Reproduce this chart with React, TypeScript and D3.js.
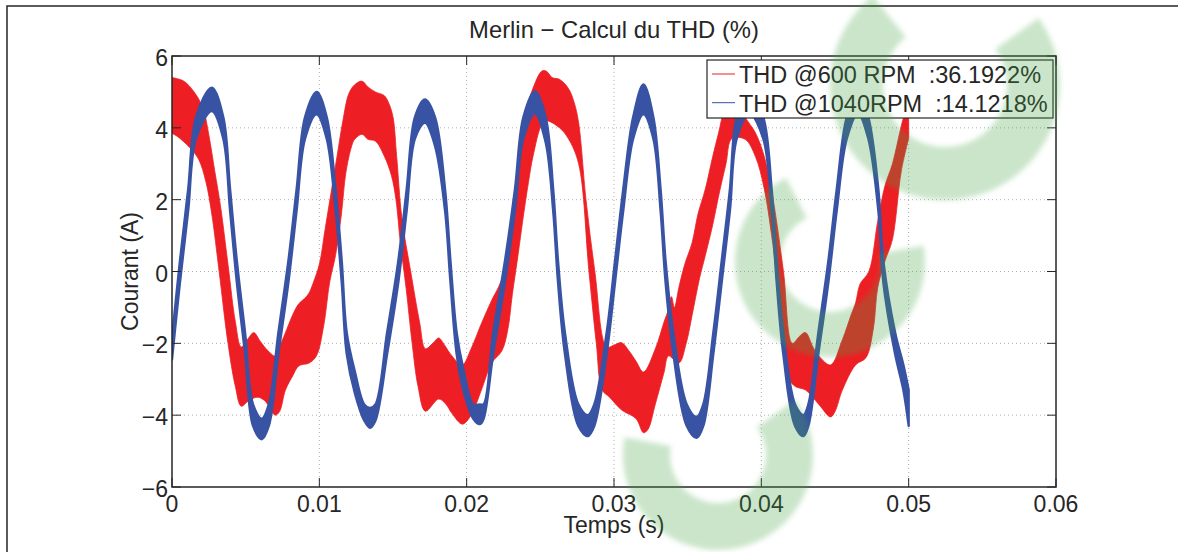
import * as d3 from "d3";

const WIDTH = 1178;
const HEIGHT = 552;
const PLOT = { left: 172, right: 1056, top: 56, bottom: 487 };
const FONT = "'Liberation Sans', Arial, Helvetica, sans-serif";
const INK = "#262626";
const RED = "#ed1f24";
const BLUE = "#3953a4";

const title = "Merlin \u2212 Calcul du THD (%)";
const xLabel = "Temps (s)";
const yLabel = "Courant (A)";

const xTicks = [0, 0.01, 0.02, 0.03, 0.04, 0.05, 0.06];
const xTickLabels = ["0", "0.01", "0.02", "0.03", "0.04", "0.05", "0.06"];
const yTicks = [-6, -4, -2, 0, 2, 4, 6];
const yTickLabels = ["\u22126", "\u22124", "\u22122", "0", "2", "4", "6"];

const legendLabels = ["THD @600 RPM  :36.1922%", "THD @1040RPM  :14.1218%"];

// 1040 RPM current: time (s) with upper / lower edge of the ripple band (A)
const blueT = [
  0, 0.00054, 0.0011, 0.00163, 0.0027,
  0.00348, 0.00394, 0.0044, 0.00496, 0.0055, 0.00609,
  0.00657, 0.00722, 0.0079, 0.00846, 0.00903, 0.00982,
  0.0105, 0.0111, 0.01152, 0.01186, 0.01242, 0.01305, 0.01344,
  0.01381, 0.0146, 0.01536, 0.01593, 0.01649, 0.01717,
  0.01785, 0.01853, 0.0189, 0.01932, 0.01977, 0.02045, 0.0209,
  0.02115, 0.0218, 0.0226, 0.02328, 0.02385, 0.02464,
  0.02536, 0.02587, 0.0262, 0.02667, 0.02758, 0.02822,
  0.02866, 0.0295, 0.03007, 0.03063, 0.0313, 0.032,
  0.03267, 0.03316, 0.0335, 0.03403, 0.03494, 0.03561,
  0.03606, 0.03674, 0.03731, 0.03787, 0.03833, 0.0392,
  0.04013, 0.0407, 0.04104, 0.04149, 0.04229, 0.04285,
  0.04319, 0.04387, 0.04455, 0.04512, 0.0458, 0.04656,
  0.04726, 0.04794, 0.04828, 0.04908, 0.04964, 0.05,
];
const blueUpper = [
  -1.85, 0.3, 2.3, 4.3, 5.12,
  4.3, 2.3, 0.3, -1.7, -3.7, -4.1,
  -3.7, -1.7, 0.3, 2.3, 4.3, 5.0,
  4.3, 2.3, 0.3, -1.7, -2.8, -3.7, -3.8,
  -3.7, -1.7, 0.3, 2.3, 4.3, 4.79,
  4.3, 2.3, 0.3, -1.7, -2.7, -3.7, -3.7,
  -3.7, -1.7, 0.3, 2.3, 4.3, 5.02,
  4.3, 2.3, 0.3, -1.7, -3.7, -4.0,
  -3.7, -1.7, 0.3, 2.3, 4.3, 5.21,
  4.3, 2.3, 0.3, -1.7, -3.7, -4.05,
  -3.7, -1.7, 0.3, 2.3, 4.3, 5.0,
  4.3, 2.3, 0.3, -1.7, -3.7, -4.0,
  -3.7, -1.7, 0.3, 2.3, 4.3, 5.0,
  4.3, 2.3, 0.3, -1.7, -2.6, -3.3,
];
const blueLower = [
  -2.45, -0.3, 1.7, 3.7, 4.47,
  3.7, 1.7, -0.3, -2.3, -4.3, -4.67,
  -4.3, -2.3, -0.3, 1.7, 3.7, 4.38,
  3.7, 1.7, -0.3, -2.3, -3.4, -4.15, -4.35,
  -4.15, -2.3, -0.3, 1.7, 3.7, 4.14,
  3.5, 1.7, -0.3, -2.3, -3.3, -4.1, -4.25,
  -4.1, -2.3, -0.3, 1.7, 3.7, 4.4,
  3.6, 1.7, -0.3, -2.3, -4.3, -4.58,
  -4.3, -2.3, -0.3, 1.7, 3.7, 4.38,
  3.7, 1.7, -0.3, -2.3, -4.3, -4.63,
  -4.3, -2.3, -0.3, 1.7, 3.7, 4.4,
  3.7, 1.7, -0.3, -2.3, -4.3, -4.58,
  -4.3, -2.3, -0.3, 1.7, 3.7, 4.4,
  3.7, 1.7, -0.3, -2.3, -3.3, -4.3,
];

// 600 RPM current: upper and lower envelope of the ripple band, [time (s), A]
const redUpper = [
  [0, 5.4], [0.0008, 5.3], [0.0015, 5.0], [0.0021, 4.55], [0.0025, 3.8],
  [0.0029, 2.8], [0.0033, 1.8], [0.0038, 0.2], [0.0043, -1.4], [0.0047, -2.1],
  [0.0052, -1.85], [0.00555, -1.7], [0.006, -1.95], [0.0065, -2.2], [0.007, -2.35],
  [0.0074, -2.0], [0.0078, -1.6], [0.0082, -1.2], [0.0086, -0.9], [0.009, -0.75],
  [0.0093, -0.6], [0.0096, -0.3], [0.01, 0.2], [0.0104, 1.2], [0.0108, 2.2],
  [0.0112, 3.2], [0.0116, 4.2], [0.012, 4.95], [0.0124, 5.2], [0.0129, 5.3],
  [0.0133, 5.14], [0.0138, 5.0], [0.0144, 4.9], [0.0147, 4.7], [0.015, 4.3],
  [0.01525, 3.2], [0.0156, 1.5], [0.0162, 0], [0.0168, -1.4], [0.0172, -2.15],
  [0.0177, -2.0], [0.0181, -1.85], [0.0185, -2.05], [0.019, -2.35], [0.0197, -2.6],
  [0.0203, -2.15], [0.021, -1.45], [0.0217, -0.8], [0.0222, -0.4], [0.0228, 0.3],
  [0.0231, 1.2], [0.0235, 2.5], [0.0238, 3.7], [0.0242, 4.7], [0.0245, 5.1],
  [0.0251, 5.58], [0.0254, 5.58], [0.0258, 5.4], [0.0263, 5.35], [0.0269, 5.1],
  [0.0273, 4.7], [0.0276, 4.14], [0.0281, 2.0], [0.0287, 0], [0.0295, -2.1],
  [0.03, -2.05], [0.0305, -1.98], [0.031, -2.2], [0.0315, -2.5], [0.032, -2.8],
  [0.0328, -2.16], [0.0334, -1.4], [0.0337, -1.05], [0.0339, -0.7], [0.0341, -1.0],
  [0.0344, -0.45], [0.0348, 0.2], [0.0353, 0.8], [0.0357, 1.6], [0.0362, 2.3],
  [0.0367, 3.2], [0.0371, 3.86], [0.0375, 4.5], [0.038, 4.8], [0.0385, 4.7],
  [0.0389, 4.3], [0.0396, 3.86], [0.0402, 3.2], [0.0408, 2.0], [0.0415, 0],
  [0.0421, -2.0], [0.0426, -1.8], [0.043, -1.7], [0.0435, -2.1], [0.0439, -2.35],
  [0.0447, -2.6], [0.0455, -1.9], [0.0461, -1.2], [0.0464, -0.87], [0.0467, -0.35],
  [0.0473, 0], [0.0479, 1.4], [0.0484, 2.4], [0.0489, 3.0], [0.0495, 4.05],
  [0.05, 4.8],
];
const redLower = [
  [0, 3.85], [0.0004, 3.75], [0.0012, 3.45], [0.0018, 3.13], [0.0023, 2.5],
  [0.0027, 1.6], [0.0032, 0], [0.0038, -2], [0.0043, -3.2], [0.0047, -3.75],
  [0.0052, -3.6], [0.0058, -3.5], [0.0063, -3.6], [0.007, -4.0], [0.0073, -3.9],
  [0.0077, -3.3], [0.0082, -2.9], [0.0086, -2.63], [0.0093, -2.55], [0.0098, -2.35],
  [0.0103, -1.5], [0.0107, -0.3], [0.0111, 0.45], [0.0115, 1.6], [0.0118, 2.75],
  [0.0122, 3.5], [0.0124, 3.68], [0.0129, 3.82], [0.0133, 3.68], [0.0138, 3.63],
  [0.0144, 3.22], [0.0149, 2.66], [0.0152, 2.0], [0.0155, 0.8], [0.0159, -0.5],
  [0.0163, -2.0], [0.0167, -3.2], [0.0172, -3.89], [0.0181, -3.55], [0.0186, -3.7],
  [0.019, -3.95], [0.0197, -4.25], [0.0203, -4.0], [0.021, -3.3], [0.0217, -2.55],
  [0.0224, -2.2], [0.0228, -1.6], [0.0231, -0.64], [0.0235, 0.5], [0.0238, 1.4],
  [0.0242, 2.5], [0.0245, 3.2], [0.0251, 4.1], [0.0254, 4.2], [0.0263, 4.0],
  [0.0269, 3.7], [0.0276, 3.0], [0.0283, 0], [0.0288, -2], [0.0292, -3.3],
  [0.0297, -3.5], [0.0305, -3.85], [0.0315, -4.1], [0.032, -4.49], [0.0323, -4.4],
  [0.0328, -3.7], [0.0334, -2.8], [0.0337, -2.35], [0.0344, -2.55], [0.0349, -2.0],
  [0.0353, -1.22], [0.0358, -0.2], [0.0362, 0.45], [0.0367, 1.3], [0.0371, 2.1],
  [0.0376, 3.0], [0.038, 3.7], [0.0389, 3.68], [0.0396, 3.2], [0.0402, 2.3],
  [0.0407, 1.0], [0.041, 0], [0.0415, -2], [0.0419, -3.0], [0.0423, -3.2],
  [0.043, -3.3], [0.0439, -3.7], [0.0447, -4.05], [0.045, -3.9], [0.0455, -3.3],
  [0.0464, -2.6], [0.0471, -2.4], [0.0476, -1.6], [0.0479, -0.45], [0.0484, 0.3],
  [0.0489, 0.9], [0.0495, 2.8], [0.05, 3.7],
];

// faint green logo printed over the figure
const WATERMARK = [
  { cx: 945, cy: 85, r0: 62, r1: 115, a0: 0.95, a1: 5.6 },
  { cx: 830, cy: 262, r0: 50, r1: 95, a0: 1.4, a1: 5.8 },
  { cx: 718, cy: 455, r0: 48, r1: 95, a0: 0.95, a1: 4.9 },
];

export default function App() {
  const x = d3.scaleLinear().domain([0, 0.06]).range([PLOT.left, PLOT.right]);
  const y = d3.scaleLinear().domain([-6, 6]).range([PLOT.bottom, PLOT.top]);

  const line = d3
    .line()
    .x((d) => x(d[0]))
    .y((d) => y(d[1]))
    .curve(d3.curveCatmullRom.alpha(0.5));

  // closed ribbon: upper edge forward, lower edge back
  const band = (upper, lower) => {
    const a = line(upper);
    const b = line([...lower].reverse());
    return a + "L" + b.slice(1) + "Z";
  };

  const redPath = band(redUpper, redLower);
  const bluePath = band(
    blueT.map((t, i) => [t, blueUpper[i]]),
    blueT.map((t, i) => [t, blueLower[i]])
  );

  const arc = d3.arc();
  const midX = (PLOT.left + PLOT.right) / 2;

  return (
    <svg
      width={WIDTH}
      height={HEIGHT}
      style={{ position: "absolute", left: 0, top: 0, background: "#fff" }}
      fontFamily={FONT}
    >
      <defs>
        <clipPath id="plot-clip">
          <rect x={PLOT.left} y={PLOT.top} width={PLOT.right - PLOT.left} height={PLOT.bottom - PLOT.top} />
        </clipPath>
        <filter id="wm-blur" x="-20%" y="-20%" width="140%" height="140%">
          <feGaussianBlur stdDeviation="2.5" />
        </filter>
      </defs>
      <rect width={WIDTH} height={HEIGHT} fill="#fff" />
      <path d={`M7,${HEIGHT} V6 H${WIDTH}`} fill="none" stroke={INK} strokeWidth={1.5} />

      <text x={midX} y={38} textAnchor="middle" fontSize={23.8} fill={INK}>
        {title}
      </text>

      {/* grid */}
      <g stroke="#b0b0b0" strokeWidth={1} strokeDasharray="1,3">
        {xTicks.slice(1, -1).map((t) => (
          <line key={"gx" + t} x1={x(t)} x2={x(t)} y1={PLOT.top} y2={PLOT.bottom} />
        ))}
        {yTicks.slice(1, -1).map((v) => (
          <line key={"gy" + v} x1={PLOT.left} x2={PLOT.right} y1={y(v)} y2={y(v)} />
        ))}
      </g>

      <g clipPath="url(#plot-clip)">
        <path d={redPath} fill={RED} stroke={RED} strokeWidth={0.8} strokeLinejoin="round" />
        <path d={bluePath} fill={BLUE} stroke={BLUE} strokeWidth={2.4} strokeLinejoin="round" />
      </g>

      {/* axes box and ticks */}
      <rect
        x={PLOT.left}
        y={PLOT.top}
        width={PLOT.right - PLOT.left}
        height={PLOT.bottom - PLOT.top}
        fill="none"
        stroke={INK}
        strokeWidth={1.5}
      />
      <g stroke={INK} strokeWidth={1}>
        {xTicks.map((t) => (
          <g key={"tx" + t}>
            <line x1={x(t)} x2={x(t)} y1={PLOT.bottom} y2={PLOT.bottom - 9} />
            <line x1={x(t)} x2={x(t)} y1={PLOT.top} y2={PLOT.top + 9} />
          </g>
        ))}
        {yTicks.map((v) => (
          <g key={"ty" + v}>
            <line x1={PLOT.left} x2={PLOT.left + 9} y1={y(v)} y2={y(v)} />
            <line x1={PLOT.right} x2={PLOT.right - 9} y1={y(v)} y2={y(v)} />
          </g>
        ))}
      </g>
      <g fontSize={23} fill={INK}>
        {xTicks.map((t, i) => (
          <text key={"lx" + t} x={x(t)} y={512} textAnchor="middle">
            {xTickLabels[i]}
          </text>
        ))}
        {yTicks.map((v, i) => (
          <text key={"ly" + v} x={168} y={y(v) + 2} textAnchor="end" dominantBaseline="central">
            {yTickLabels[i]}
          </text>
        ))}
      </g>
      <text x={midX} y={533} textAnchor="middle" fontSize={23} fill={INK}>
        {xLabel}
      </text>
      <text
        transform={`translate(138,${(PLOT.top + PLOT.bottom) / 2}) rotate(-90)`}
        textAnchor="middle"
        fontSize={23}
        fill={INK}
      >
        {yLabel}
      </text>

      {/* legend */}
      <g>
        <rect x={707} y={60} width={346} height={58} fill="#fff" stroke={INK} strokeWidth={1.2} />
        {legendLabels.map((label, i) => (
          <g key={label}>
            <line x1={712} x2={735} y1={74 + i * 28.7} y2={74 + i * 28.7} stroke={i === 0 ? RED : BLUE} strokeWidth={1} />
            <text x={739} y={83 + i * 28.5} fontSize={23.5} fill={INK} style={{ whiteSpace: "pre" }}>
              {label}
            </text>
          </g>
        ))}
      </g>

      {/* watermark */}
      <g fill="rgb(70,160,70)" fillOpacity={0.28} filter="url(#wm-blur)">
        {WATERMARK.map((w, i) => (
          <path
            key={i}
            transform={`translate(${w.cx},${w.cy})`}
            d={arc({ innerRadius: w.r0, outerRadius: w.r1, startAngle: w.a0, endAngle: w.a1 })}
          />
        ))}
      </g>
    </svg>
  );
}
